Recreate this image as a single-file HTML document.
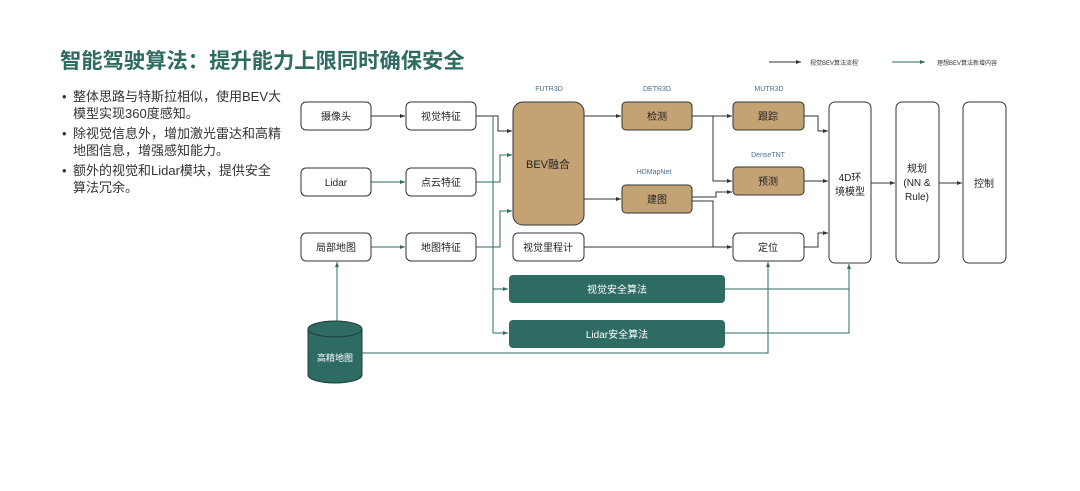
<!DOCTYPE html>
<html><head><meta charset="utf-8"><style>
body{margin:0;width:1080px;height:486px;background:#fff;overflow:hidden;font-family:"Liberation Sans","Noto Sans CJK SC",sans-serif;}
</style></head><body>
<svg width="1080" height="486" xmlns="http://www.w3.org/2000/svg" font-family="Liberation Sans, Noto Sans CJK SC, sans-serif">
<defs>
<marker id="a" markerWidth="6" markerHeight="6" refX="5" refY="3" orient="auto"><path d="M0,1 L5,3 L0,5z" fill="#333"/></marker>
<marker id="g" markerWidth="6" markerHeight="6" refX="5" refY="3" orient="auto"><path d="M0,1 L5,3 L0,5z" fill="#2e6b62"/></marker>
</defs>
<text x="60" y="68" font-size="21.3" font-weight="bold" fill="#2e6b62">智能驾驶算法：提升能力上限同时确保安全</text>
<g font-size="13" fill="#333">
<text x="62" y="101">•</text><text x="73" y="101">整体思路与特斯拉相似，使用BEV大</text>
<text x="73" y="118">模型实现360度感知。</text>
<text x="62" y="138">•</text><text x="73" y="138">除视觉信息外，增加激光雷达和高精</text>
<text x="73" y="155">地图信息，增强感知能力。</text>
<text x="62" y="175">•</text><text x="73" y="175">额外的视觉和Lidar模块，提供安全</text>
<text x="73" y="192">算法冗余。</text>
</g>
<!-- legend -->
<line x1="769" y1="62" x2="801" y2="62" stroke="#333" marker-end="url(#a)"/>
<text x="810" y="65" font-size="6" fill="#333">视觉BEV算法流程</text>
<line x1="892" y1="62" x2="925" y2="62" stroke="#2e6b62" marker-end="url(#g)"/>
<text x="937" y="65" font-size="6" fill="#333">理想BEV算法新增内容</text>

<g fill="none" stroke="#333" stroke-width="1">
<line x1="371" y1="116" x2="405" y2="116" marker-end="url(#a)"/>
<line x1="371" y1="182" x2="405" y2="182" marker-end="url(#g)" stroke="#2e6b62"/>
<line x1="371" y1="247" x2="405" y2="247" marker-end="url(#g)" stroke="#2e6b62"/>
<polyline points="476,116 498,116 498,131 512,131" marker-end="url(#a)"/>
<polyline points="476,182 500,182 500,155 512,155" stroke="#2e6b62" marker-end="url(#g)"/>
<polyline points="476,247 500,247 500,211 512,211" stroke="#2e6b62" marker-end="url(#g)"/>
<line x1="493" y1="116" x2="493" y2="333" stroke="#2e6b62"/>
<line x1="493" y1="289" x2="508" y2="289" stroke="#2e6b62" marker-end="url(#g)"/>
<line x1="493" y1="333" x2="508" y2="333" stroke="#2e6b62" marker-end="url(#g)"/>
<line x1="584" y1="116" x2="621" y2="116" marker-end="url(#a)"/>
<line x1="584" y1="199" x2="621" y2="199" marker-end="url(#a)"/>
<line x1="692" y1="116" x2="732" y2="116" marker-end="url(#a)"/>
<polyline points="713,116 713,181 732,181" marker-end="url(#a)"/>
<polyline points="692,197 716,197 716,192 732,192" marker-end="url(#a)"/>
<polyline points="692,201 713,201 713,247"/>
<line x1="584" y1="247" x2="732" y2="247" marker-end="url(#a)"/>
<polyline points="804,116 818,116 818,131 828,131" marker-end="url(#a)"/>
<line x1="804" y1="181" x2="828" y2="181" marker-end="url(#a)"/>
<polyline points="804,247 818,247 818,233 828,233" marker-end="url(#a)"/>
<line x1="871" y1="183" x2="895" y2="183" marker-end="url(#a)"/>
<line x1="939" y1="183" x2="962" y2="183" marker-end="url(#a)"/>
<g stroke="#2e6b62">
<line x1="337" y1="321" x2="337" y2="262" marker-end="url(#g)"/>
<polyline points="362,353 768,353 768,262" marker-end="url(#g)"/>
<polyline points="725,289 849,289 849,264" marker-end="url(#g)"/>
<polyline points="725,333 849,333 849,289"/>
</g>
</g>

<g stroke="#333" stroke-width="1" fill="#fff">
<rect x="301" y="102" width="70" height="28" rx="5"/>
<rect x="406" y="102" width="70" height="28" rx="5"/>
<rect x="301" y="168" width="70" height="28" rx="5"/>
<rect x="406" y="168" width="70" height="28" rx="5"/>
<rect x="301" y="233" width="70" height="28" rx="5"/>
<rect x="406" y="233" width="70" height="28" rx="5"/>
<rect x="513" y="233" width="71" height="28" rx="5"/>
<rect x="733" y="233" width="71" height="28" rx="5"/>
<rect x="829" y="102" width="42" height="161" rx="6"/>
<rect x="896" y="102" width="43" height="161" rx="6"/>
<rect x="963" y="102" width="43" height="161" rx="6"/>
<g fill="#c4a274">
<rect x="513" y="102" width="71" height="123" rx="10"/>
<rect x="622" y="102" width="70" height="28" rx="4"/>
<rect x="622" y="185" width="70" height="28" rx="4"/>
<rect x="733" y="102" width="71" height="28" rx="4"/>
<rect x="733" y="167" width="71" height="28" rx="4"/>
</g>
</g>
<rect x="509" y="275" width="216" height="28" rx="4" fill="#2e6b62"/>
<rect x="509" y="320" width="216" height="28" rx="4" fill="#2e6b62"/>
<path d="M308,329 L308,375 A27,8 0 0 0 362,375 L362,329" fill="#2e6b62" stroke="#1e3f3a"/>
<ellipse cx="335" cy="329" rx="27" ry="8" fill="#2e6b62" stroke="#1e3f3a"/>

<g font-size="10" fill="#222" text-anchor="middle">
<text x="336" y="120">摄像头</text><text x="441" y="120">视觉特征</text>
<text x="336" y="186">Lidar</text><text x="441" y="186">点云特征</text>
<text x="336" y="251">局部地图</text><text x="441" y="251">地图特征</text>
<text x="548" y="251">视觉里程计</text>
<text x="548" y="168" font-size="11">BEV融合</text>
<text x="657" y="120">检测</text><text x="657" y="203">建图</text>
<text x="768" y="120">跟踪</text><text x="768" y="185">预测</text>
<text x="768" y="251">定位</text>
<text x="850" y="181">4D环</text><text x="850" y="195">境模型</text>
<text x="917" y="172">规划</text><text x="917" y="186">(NN &amp;</text><text x="917" y="200">Rule)</text>
<text x="984" y="187">控制</text>
<g fill="#fff"><text x="617" y="293">视觉安全算法</text><text x="617" y="338">Lidar安全算法</text><text x="335" y="361" font-size="9">高精地图</text></g>
<g font-size="7" fill="#4a6f8a"><text x="549" y="91">FUTR3D</text><text x="657" y="91">DETR3D</text><text x="769" y="91">MUTR3D</text><text x="654" y="174">HDMapNet</text><text x="768" y="157">DenseTNT</text></g>
</g>
</svg>
</body></html>
